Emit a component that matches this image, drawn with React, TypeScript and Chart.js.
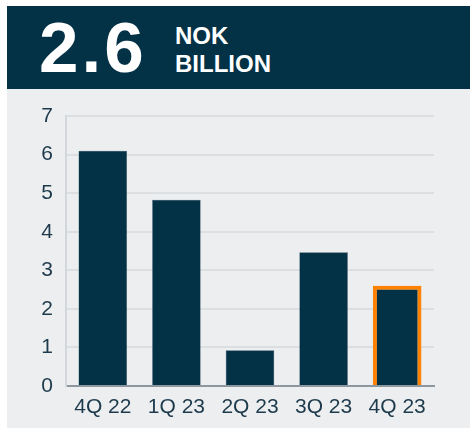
import React, { useEffect, useRef } from "react";
import { Chart, registerables } from "chart.js";

Chart.register(...registerables);

const categories = ["4Q 22", "1Q 23", "2Q 23", "3Q 23", "4Q 23"];
const values = [6.1, 4.83, 0.93, 3.47, 2.6];
const yTicks = [0, 1, 2, 3, 4, 5, 6, 7];
const headlineValue = "2.6";
const headlineUnit = ["NOK", "BILLION"];

const NAVY = "#033247";
const ORANGE = "#ff8200";
const FONT = "'Liberation Sans', Arial, sans-serif";

export default function App() {
  const ref = useRef<HTMLCanvasElement | null>(null);

  useEffect(() => {
    if (!ref.current) return;
    const chart = new Chart(ref.current, {
      type: "bar",
      data: {
        labels: categories,
        datasets: [
          {
            data: values,
            backgroundColor: NAVY,
            borderColor: values.map((_, i) => (i === values.length - 1 ? ORANGE : "#3d5b6b")),
            borderWidth: values.map((_, i) => (i === values.length - 1 ? 4 : 0.5)),
            barPercentage: 0.66,
            categoryPercentage: 1,
          },
        ],
      },
      options: {
        animation: false,
        responsive: false,
        maintainAspectRatio: false,
        layout: { padding: { top: 27, right: 36, left: 0, bottom: 0 } },
        plugins: { legend: { display: false }, tooltip: { enabled: false } },
        scales: {
          x: {
            grid: { display: false, drawTicks: false },
            border: { display: true, color: "#8d979f", width: 2 },
            ticks: { color: "#1d3a4c", font: { family: FONT, size: 21 }, padding: 9, maxRotation: 0 },
            afterFit: (s: any) => {
              s.height = 42;
            },
          },
          y: {
            min: 0,
            max: 7,
            afterBuildTicks: (s: any) => {
              s.ticks = yTicks.map((v) => ({ value: v }));
            },
            grid: { color: "#dcdfe2", lineWidth: 2, drawTicks: false },
            border: { display: true, color: "#d3d7db", width: 2 },
            ticks: { color: "#1d3a4c", font: { family: FONT, size: 21 }, padding: 13 },
            afterFit: (s: any) => {
              s.width = 59;
            },
          },
        },
      },
    });
    return () => chart.destroy();
  }, []);

  return (
    <div style={{ position: "fixed", left: 0, top: 0, width: 470, height: 432, background: "#fff", fontFamily: FONT }}>
      <div style={{ position: "absolute", left: 7, top: 6, width: 463, height: 83, background: NAVY }}>
        <div
          style={{
            position: "absolute",
            left: 32,
            top: 7,
            fontSize: 71,
            lineHeight: "70px",
            fontWeight: 700,
            color: "#fff",
            letterSpacing: 3,
          }}
        >
          {headlineValue}
        </div>
        <div
          style={{
            position: "absolute",
            left: 168,
            top: 16,
            fontSize: 24,
            lineHeight: "28px",
            fontWeight: 700,
            color: "#fff",
          }}
        >
          {headlineUnit.map((t) => (
            <div key={t}>{t}</div>
          ))}
        </div>
      </div>
      <div style={{ position: "absolute", left: 7, top: 89, width: 463, height: 339, background: "#edeef0" }}>
        <canvas ref={ref} width={463} height={339} style={{ display: "block", width: 463, height: 339 }} />
      </div>
    </div>
  );
}
